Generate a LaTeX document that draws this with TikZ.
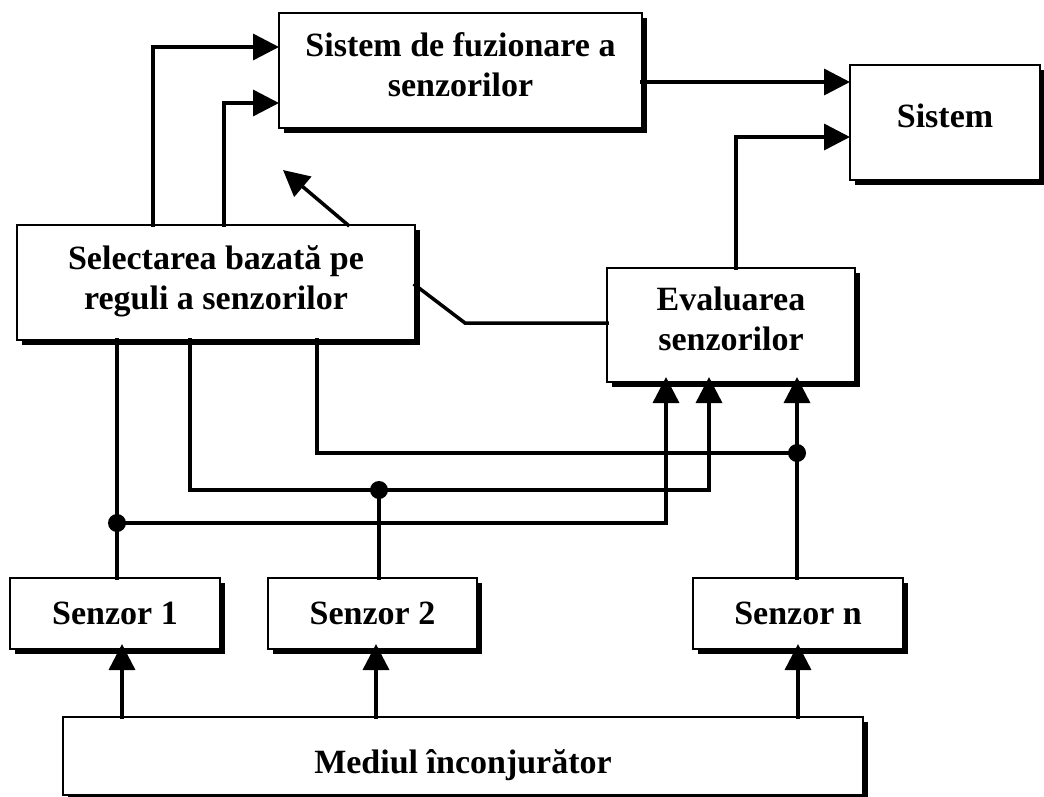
\documentclass[tikz,border=0pt]{standalone}
\usepackage{fontspec}
\setmainfont{Liberation Serif}
\usetikzlibrary{arrows.meta,shadows}
\begin{document}
\begin{tikzpicture}[x=1pt,y=-1pt,
  box/.style={draw,line width=2.5pt,fill=white,inner sep=0pt,outer sep=0pt,
    drop shadow={shadow xshift=5pt,shadow yshift=-5pt,fill=black,opacity=1}},
  lbl/.style={inner sep=0pt,align=center,font=\fontsize{34}{40}\selectfont\bfseries},
  conn/.style={line width=3.5pt,line cap=rect},
  arr/.style={conn,-{Triangle[length=26pt,width=26pt]}},
  dot/.style={fill=black}]
\fill[white] (0,0) rectangle (1044,796);
\useasboundingbox (0,0) rectangle (1044,796);
% boxes
\node[box,minimum width=363pt,minimum height=115pt] (fus) at (460.5,70.5) {};
\node[box,minimum width=190pt,minimum height=115pt] (sis) at (945,122.5) {};
\node[box,minimum width=398pt,minimum height=115pt] (sel) at (216,282.5) {};
\node[box,minimum width=248pt,minimum height=114pt] (eva) at (731,325) {};
\node[box,minimum width=210pt,minimum height=71pt] (s1) at (115,613.5) {};
\node[box,minimum width=209pt,minimum height=71pt] (s2) at (372.5,613.5) {};
\node[box,minimum width=210pt,minimum height=71pt] (sn) at (798,613.5) {};
\node[box,minimum width=800pt,minimum height=78pt] (med) at (463,756) {};
% texts
\node[lbl] (fust) at ([yshift=6pt]fus.center) {Sistem de fuzionare a\\senzorilor};
\node[lbl] (sist) at ([yshift=7pt]sis.center) {Sistem};
\node[lbl] (selt) at ([yshift=1pt]sel.center) {Selectarea bazată pe\\reguli a senzorilor};
\node[lbl] (evat) at ([yshift=6pt]eva.center) {Evaluarea\\senzorilor};
\node[lbl] (s1t) at (s1.center) {Senzor 1};
\node[lbl] (s2t) at (s2.center) {Senzor 2};
\node[lbl] (snt) at (sn.center) {Senzor n};
\node[lbl] (medt) at ([yshift=-9pt]med.center) {Mediul înconjurător};
% junctions and free ends
\coordinate (j1) at (117,523);
\coordinate (j2) at (379,490);
\coordinate (j3) at (797,453);
\coordinate (tip) at (283,170);
\coordinate (bend) at (465,323);
% selection -> fusion
\draw[arr] (153,0 |- sel.north) |- (fus.west |- 0,47);
\draw[arr] (224,0 |- sel.north) |- (fus.west |- 0,103);
\draw[arr] (348,0 |- sel.north) -- (tip);
% fusion -> system, evaluation -> system
\draw[arr] (fus.east |- 0,82) -- (sis.west |- 0,82);
\draw[arr] (736,0 |- eva.north) |- (sis.west |- 0,137);
% evaluation -> selection
\draw[conn] (eva.west |- bend) -- (bend) -- (sel.east |- 0,285);
% sensor 1
\draw[conn] (117,0 |- sel.south) -- (117,0 |- s1.north);
\draw[arr,shorten >=-5pt] (j1) -| (666,0 |- eva.south);
% sensor 2
\draw[arr,shorten >=-5pt] (190,0 |- sel.south) |- (709,0 |- j2) -- (709,0 |- eva.south);
\draw[conn] (j2) -- (379,0 |- s2.north);
% sensor n
\draw[conn] (317,0 |- sel.south) |- (j3);
\draw[arr,shorten >=-5pt] (797,0 |- sn.north) -- (797,0 |- eva.south);
% environment -> sensors
\draw[arr,shorten >=-5pt] (122,0 |- med.north) -- (122,0 |- s1.south);
\draw[arr,shorten >=-5pt] (376,0 |- med.north) -- (376,0 |- s2.south);
\draw[arr,shorten >=-5pt] (798,0 |- med.north) -- (798,0 |- sn.south);
% dots
\fill[dot] (j1) circle (9pt);
\fill[dot] (j2) circle (9pt);
\fill[dot] (j3) circle (9pt);
\end{tikzpicture}
\end{document}
